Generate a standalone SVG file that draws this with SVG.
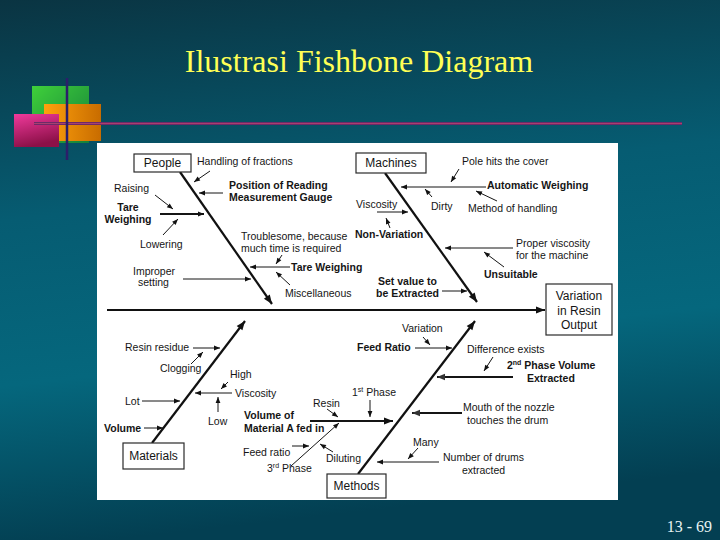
<svg xmlns="http://www.w3.org/2000/svg" width="720" height="540" viewBox="0 0 720 540">
<defs>
<linearGradient id="bg" x1="0" y1="0" x2="0.15" y2="1">
<stop offset="0" stop-color="#0a3442"/>
<stop offset="0.4" stop-color="#065c72"/>
<stop offset="0.7" stop-color="#05677d"/>
<stop offset="1" stop-color="#033f52"/>
</linearGradient>
<linearGradient id="gG" x1="0" y1="0" x2="1" y2="1"><stop offset="0" stop-color="#3fd03a"/><stop offset="1" stop-color="#15803a"/></linearGradient>
<linearGradient id="gO" x1="0" y1="0" x2="1" y2="0"><stop offset="0" stop-color="#ffa20c"/><stop offset="1" stop-color="#c86c00"/></linearGradient>
<linearGradient id="gP" x1="0" y1="0" x2="0.3" y2="1"><stop offset="0" stop-color="#f03a9c"/><stop offset="1" stop-color="#8c1048"/></linearGradient>
<marker id="ah" viewBox="0 0 10 10" refX="10" refY="5" markerWidth="7" markerHeight="6" markerUnits="userSpaceOnUse" orient="auto"><path d="M0,1 L10,5 L0,9 z" fill="#111"/></marker>
<marker id="ahb" viewBox="0 0 10 10" refX="10" refY="5" markerWidth="11" markerHeight="9" markerUnits="userSpaceOnUse" orient="auto"><path d="M0,1 L10,5 L0,9 z" fill="#111"/></marker>
<marker id="ahg" viewBox="0 0 10 10" refX="10" refY="5" markerWidth="9" markerHeight="8" markerUnits="userSpaceOnUse" orient="auto"><path d="M0,1 L10,5 L0,9 z" fill="#333"/></marker>
<style>
.serif{font-family:"Liberation Serif","Times New Roman",serif}
.t{font-family:"Liberation Sans",Arial,sans-serif;font-size:10.5px;fill:#151515}
.b{font-weight:bold}
.m{text-anchor:middle}
.lb{font-size:12px}
.box{fill:#fff;stroke:#2a2a2a;stroke-width:1.2}
.c{stroke:#151515;stroke-width:1;fill:none}
.sb{stroke:#151515;stroke-width:1.8;fill:none}
.bone{stroke:#111;stroke-width:2.2;fill:none}
.sp{font-size:7px}
</style>
</defs>

<rect x="0" y="0" width="720" height="540" fill="url(#bg)"/>

<g id="decoration">
<rect x="32" y="86" width="57" height="57" fill="url(#gG)"/>
<rect x="44" y="104" width="57" height="37" fill="url(#gO)"/>
<rect x="14" y="114" width="45" height="33" fill="url(#gP)"/>
<line x1="34" y1="123.5" x2="682" y2="123.5" stroke="#6e2a68" stroke-width="3"/>
<line x1="34" y1="123.5" x2="682" y2="123.5" stroke="#a8406e" stroke-width="1"/>
<line x1="67" y1="78" x2="67" y2="160" stroke="#2c1e6a" stroke-width="2.5"/>
</g>

<text id="title" class="serif" x="359" y="72" font-size="32" fill="#ffff55" text-anchor="middle">Ilustrasi Fishbone Diagram</text>
<text id="pagenum" class="serif" x="712" y="532" font-size="16" fill="#e8f4f4" text-anchor="end">13 - 69</text>

<rect id="panel" x="97" y="143" width="521" height="357" fill="#ffffff"/>

<g id="connectors">
<line class="bone" x1="107" y1="310" x2="545" y2="310" stroke-width="3" marker-end="url(#ahb)"/>
<line class="bone" x1="180" y1="172" x2="272" y2="304" marker-end="url(#ahb)"/>
<line class="bone" x1="385" y1="173" x2="477" y2="302" marker-end="url(#ahb)"/>
<line class="bone" x1="152" y1="443" x2="245" y2="321" marker-end="url(#ahb)"/>
<line class="bone" x1="358" y1="474" x2="475" y2="321" marker-end="url(#ahb)"/>

<line class="c" x1="210" y1="171" x2="194" y2="182" marker-end="url(#ah)"/>
<line class="c" x1="223" y1="193" x2="199" y2="193" marker-end="url(#ah)"/>
<line class="c" x1="155" y1="195" x2="173" y2="209" marker-end="url(#ah)"/>
<line class="sb" x1="160" y1="214" x2="204" y2="214" marker-end="url(#ah)"/>
<line class="c" x1="163" y1="235" x2="178" y2="219" marker-end="url(#ah)"/>
<line class="c" x1="183" y1="279" x2="251" y2="279" marker-end="url(#ah)"/>
<line class="c" x1="290" y1="267" x2="250" y2="267" marker-end="url(#ah)"/>
<line class="c" x1="282" y1="255" x2="276" y2="264" marker-end="url(#ah)"/>
<line class="c" x1="290" y1="285" x2="276" y2="272" marker-end="url(#ah)"/>

<line class="c" x1="459" y1="169" x2="451" y2="182" marker-end="url(#ah)"/>
<line class="c" x1="486" y1="187" x2="401" y2="187" marker-end="url(#ah)"/>
<line class="c" x1="432" y1="197" x2="425" y2="189" marker-end="url(#ah)"/>
<line class="c" x1="497" y1="201" x2="476" y2="191" marker-end="url(#ah)"/>
<line class="c" x1="377" y1="212" x2="408" y2="212" marker-end="url(#ah)"/>
<line class="c" x1="390" y1="228" x2="386" y2="218" marker-end="url(#ah)"/>
<line class="c" x1="513" y1="248" x2="445" y2="248" marker-end="url(#ah)"/>
<line class="c" x1="504" y1="267" x2="484" y2="252" marker-end="url(#ah)"/>
<line class="c" x1="442" y1="291" x2="467" y2="291" marker-end="url(#ah)"/>

<line class="c" x1="193" y1="348" x2="220" y2="348" marker-end="url(#ah)"/>
<line class="c" x1="191" y1="364" x2="203" y2="352" marker-end="url(#ah)"/>
<line class="c" x1="232" y1="393" x2="195" y2="393" marker-end="url(#ah)"/>
<line class="c" x1="228" y1="382" x2="221" y2="389" marker-end="url(#ah)"/>
<line class="c" x1="218" y1="412" x2="218" y2="397" marker-end="url(#ah)"/>
<line class="c" x1="142" y1="401" x2="180" y2="401" marker-end="url(#ah)"/>
<line class="c" x1="144" y1="428" x2="163" y2="428" marker-end="url(#ah)"/>

<line class="c" x1="423" y1="337" x2="430" y2="345" marker-end="url(#ah)"/>
<line class="c" x1="415" y1="348" x2="452" y2="348" marker-end="url(#ah)"/>
<line class="c" x1="493" y1="357" x2="484" y2="371" marker-end="url(#ah)"/>
<line class="sb" x1="513" y1="377" x2="437" y2="377" stroke="#333" stroke-width="2.2" marker-end="url(#ahg)"/>
<line class="sb" x1="462" y1="413" x2="412" y2="413" stroke="#7a7a7a" stroke-width="2.4" marker-end="url(#ahg)"/>
<line class="c" x1="418" y1="448" x2="408" y2="459" marker-end="url(#ah)"/>
<line class="c" x1="439" y1="462" x2="377" y2="462" marker-end="url(#ah)"/>
<line class="sb" x1="310" y1="421" x2="393" y2="421" stroke-width="2.4" marker-end="url(#ahb)"/>
<line class="c" x1="370" y1="400" x2="370" y2="417" marker-end="url(#ah)"/>
<line class="c" x1="327" y1="409" x2="338" y2="417" marker-end="url(#ah)"/>
<line class="c" x1="291" y1="466" x2="339" y2="423" marker-end="url(#ah)"/>
<line class="c" x1="292" y1="446" x2="309" y2="446" marker-end="url(#ah)"/>
<line class="c" x1="333" y1="452" x2="320" y2="444" marker-end="url(#ah)"/>
</g>

<g id="people"><rect class="box" x="134" y="154" width="57" height="18"/><text class="t lb m" x="162.5" y="167">People</text></g>
<g id="machines"><rect class="box" x="356" y="153" width="70" height="20"/><text class="t lb m" x="391" y="167">Machines</text></g>
<g id="materials"><rect class="box" x="123" y="443" width="61" height="26"/><text class="t lb m" x="153.5" y="460">Materials</text></g>
<g id="methods"><rect class="box" x="327" y="474" width="59" height="24"/><text class="t lb m" x="356.5" y="490">Methods</text></g>
<g id="effect"><rect class="box" x="546" y="284" width="66" height="51"/>
<text class="t lb m" x="579" y="300">Variation</text><text class="t lb m" x="579" y="315">in Resin</text><text class="t lb m" x="579" y="329">Output</text></g>

<g id="people-causes">
<text class="t" x="197" y="165">Handling  of fractions</text>
<text class="t b" x="229" y="189">Position of Reading</text>
<text class="t b" x="229" y="201">Measurement Gauge</text>
<text class="t" x="114" y="192">Raising</text>
<text class="t b m" x="128" y="211">Tare</text>
<text class="t b m" x="128" y="223">Weighing</text>
<text class="t" x="140" y="248">Lowering</text>
<text class="t" x="133" y="275">Improper</text>
<text class="t" x="138" y="286">setting</text>
<text class="t" x="241" y="240">Troublesome, because</text>
<text class="t" x="241" y="252">much time is required</text>
<text class="t b" x="291" y="271">Tare Weighing</text>
<text class="t" x="285" y="297">Miscellaneous</text>
</g>

<g id="machines-causes">
<text class="t" x="462" y="165">Pole hits the cover</text>
<text class="t b" x="487" y="189">Automatic Weighing</text>
<text class="t" x="356" y="208">Viscosity</text>
<text class="t" x="431" y="210">Dirty</text>
<text class="t" x="468" y="212">Method of handling</text>
<text class="t b" x="355" y="238">Non-Variation</text>
<text class="t" x="516" y="247">Proper viscosity</text>
<text class="t" x="516" y="259">for the machine</text>
<text class="t b" x="484" y="278">Unsuitable</text>
<text class="t b" x="378" y="285">Set value to</text>
<text class="t b" x="376" y="297">be Extracted</text>
</g>

<g id="materials-causes">
<text class="t" x="125" y="351">Resin residue</text>
<text class="t" x="160" y="372">Clogging</text>
<text class="t" x="230" y="378">High</text>
<text class="t" x="235" y="397">Viscosity</text>
<text class="t" x="125" y="405">Lot</text>
<text class="t" x="208" y="425">Low</text>
<text class="t b" x="104" y="432">Volume</text>
</g>

<g id="methods-causes">
<text class="t" x="402" y="332">Variation</text>
<text class="t b" x="357" y="351">Feed Ratio</text>
<text class="t" x="467" y="353">Difference exists</text>
<text class="t b" x="507" y="369">2<tspan class="sp" dy="-4">nd</tspan><tspan dy="4"> Phase Volume</tspan></text>
<text class="t b" x="527" y="382">Extracted</text>
<text class="t" x="352" y="396">1<tspan class="sp" dy="-4">st</tspan><tspan dy="4"> Phase</tspan></text>
<text class="t" x="313" y="407">Resin</text>
<text class="t" x="463" y="411">Mouth of the nozzle</text>
<text class="t" x="467" y="424">touches the drum</text>
<text class="t b" x="244" y="419">Volume of</text>
<text class="t b" x="244" y="432">Material A fed in</text>
<text class="t" x="413" y="446">Many</text>
<text class="t" x="243" y="456">Feed ratio</text>
<text class="t" x="326" y="462">Diluting</text>
<text class="t" x="443" y="461">Number of drums</text>
<text class="t" x="462" y="474">extracted</text>
<text class="t" x="267" y="472">3<tspan class="sp" dy="-4">rd</tspan><tspan dy="4"> Phase</tspan></text>
</g>
</svg>
